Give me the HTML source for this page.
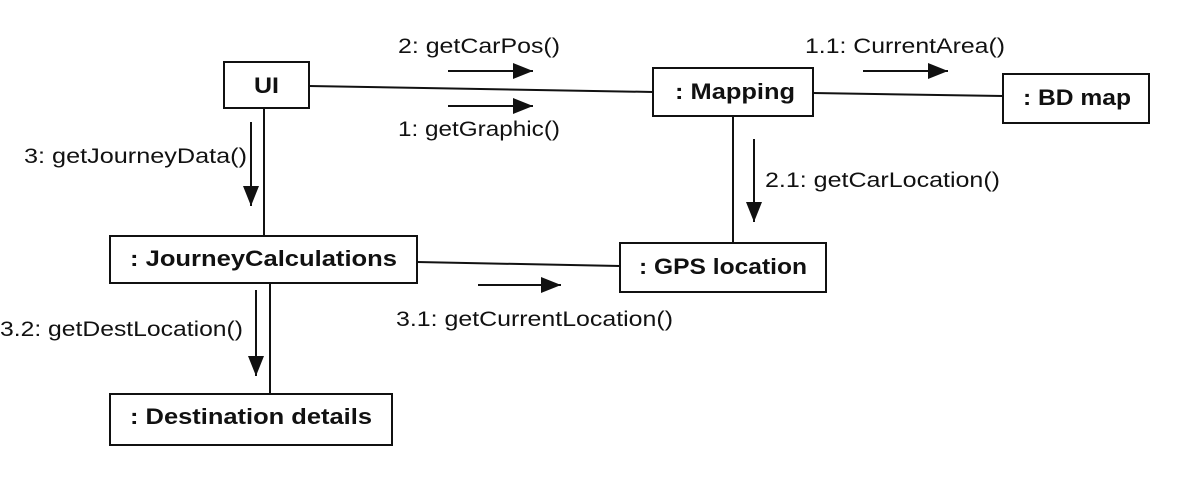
<!DOCTYPE html>
<html><head><meta charset="utf-8"><style>
html,body{margin:0;padding:0;background:#fff;}
svg{display:block;}
text{font-family:"Liberation Sans",Arial,sans-serif;fill:#111;}
.l{font-size:21px;}
.b{font-size:22px;font-weight:bold;}
</style></head><body>
<svg width="1185" height="480" viewBox="0 0 1185 480" xmlns="http://www.w3.org/2000/svg">
<defs>
<marker id="ah" viewBox="0 0 20 16" markerWidth="20" markerHeight="16" refX="20" refY="8" orient="auto" markerUnits="userSpaceOnUse"><path d="M0,0 L20,8 L0,16 z" fill="#111"/></marker></defs>
<g stroke="#111" stroke-width="2" fill="none">
<rect x="224" y="62" width="85" height="46"/>
<rect x="653" y="68" width="160" height="48"/>
<rect x="1003" y="74" width="146" height="49"/>
<rect x="620" y="243" width="206" height="49"/>
<rect x="110" y="236" width="307" height="47"/>
<rect x="110" y="394" width="282" height="51"/>
<line x1="309" y1="86" x2="653" y2="92"/>
<line x1="813" y1="93" x2="1003" y2="96"/>
<line x1="733" y1="116" x2="733" y2="243"/>
<line x1="264" y1="108" x2="264" y2="236"/>
<line x1="417" y1="262" x2="620" y2="266"/>
<line x1="270" y1="283" x2="270" y2="394"/>
<line x1="448" y1="71" x2="533" y2="71" marker-end="url(#ah)"/>
<line x1="448" y1="106" x2="533" y2="106" marker-end="url(#ah)"/>
<line x1="863" y1="71" x2="948" y2="71" marker-end="url(#ah)"/>
<line x1="754" y1="139" x2="754" y2="222" marker-end="url(#ah)"/>
<line x1="251" y1="122" x2="251" y2="206" marker-end="url(#ah)"/>
<line x1="478" y1="285" x2="561" y2="285" marker-end="url(#ah)"/>
<line x1="256" y1="290" x2="256" y2="376" marker-end="url(#ah)"/>
</g>
<g lengthAdjust="spacingAndGlyphs">
<text class="b" x="254" y="93" textLength="25" lengthAdjust="spacingAndGlyphs">UI</text>
<text class="b" x="675" y="99" textLength="120" lengthAdjust="spacingAndGlyphs">: Mapping</text>
<text class="b" x="1023" y="105" textLength="108" lengthAdjust="spacingAndGlyphs">: BD map</text>
<text class="b" x="639" y="274" textLength="168" lengthAdjust="spacingAndGlyphs">: GPS location</text>
<text class="b" x="130" y="266" textLength="267" lengthAdjust="spacingAndGlyphs">: JourneyCalculations</text>
<text class="b" x="130" y="424" textLength="242" lengthAdjust="spacingAndGlyphs">: Destination details</text>
<text class="l" x="398" y="53" textLength="162" lengthAdjust="spacingAndGlyphs">2: getCarPos()</text>
<text class="l" x="398" y="136" textLength="162" lengthAdjust="spacingAndGlyphs">1: getGraphic()</text>
<text class="l" x="805" y="53" textLength="200" lengthAdjust="spacingAndGlyphs">1.1: CurrentArea()</text>
<text class="l" x="765" y="187" textLength="235" lengthAdjust="spacingAndGlyphs">2.1: getCarLocation()</text>
<text class="l" x="24" y="163" textLength="223" lengthAdjust="spacingAndGlyphs">3: getJourneyData()</text>
<text class="l" x="396" y="326" textLength="277" lengthAdjust="spacingAndGlyphs">3.1: getCurrentLocation()</text>
<text class="l" x="0" y="336" textLength="243" lengthAdjust="spacingAndGlyphs">3.2: getDestLocation()</text>
</g>
</svg>
</body></html>
